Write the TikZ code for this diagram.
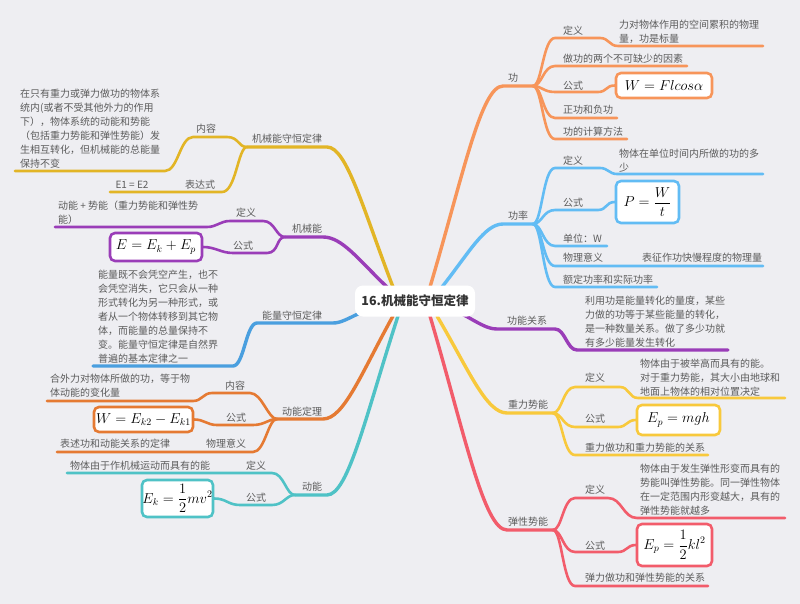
\documentclass[tikz,border=0pt]{standalone}
\usepackage{fontspec}
\setmainfont{Noto Sans CJK SC}
\definecolor{cGong}{HTML}{F7955A}
\definecolor{cGonglv}{HTML}{62BCF4}
\definecolor{cPurple}{HTML}{9A3DB8}
\definecolor{cYellow}{HTML}{F8C93C}
\definecolor{cGold}{HTML}{E2B526}
\definecolor{cRed}{HTML}{F25C6B}
\definecolor{cBlueB}{HTML}{4A9FDF}
\definecolor{cOrangeB}{HTML}{E57A33}
\definecolor{cTeal}{HTML}{4FC2C6}
\definecolor{bg}{HTML}{EEEEF2}
\definecolor{txt}{HTML}{5C5C5C}
\definecolor{roottxt}{HTML}{333333}
\tikzset{
  lbl/.style={inner sep=0pt, font=\fontsize{10}{14}\selectfont, text=txt},
  lblw/.style={lbl, anchor=west},
  blk/.style={lbl, anchor=north west, align=left},
  mainline/.style={line width=3.4pt, line cap=round, line join=round},
  subline/.style={line width=2.6pt, line cap=round, line join=round},
  fbox/.style={line width=2.6pt, rounded corners=5pt, fill=white, inner sep=0pt,
               font=\fontsize{14}{16}\selectfont},
}
\begin{document}
\begin{tikzpicture}[x=1pt,y=-1pt]
\fill[bg] (0,0) rectangle (800,604);
\useasboundingbox (0,0) rectangle (800,604);

% ================= RIGHT SIDE =================
% ---- 功
\coordinate (gS) at (430,287); \coordinate (gE) at (503,86); \coordinate (gF) at (533,86);
\draw[mainline,cGong] (gS) .. controls (463,176) and (481,86) .. (gE) -- (gF);
\node[lbl] (gL) at (513,78) {功};
\coordinate (g1) at (555,38); \coordinate (g1e) at (763,46);
\draw[subline,cGong] (gF) .. controls +(9,0) and +(-12,0) .. (g1) -- (600,38) .. controls +(9,0) and +(-9,0) .. (618,46) -- (g1e);
\node[lblw] (g1t) at (563,31) {定义};
\node[blk] (g1b) at (619,20) {力对物体作用的空间累积的物理\\量，功是标量};
\coordinate (g2) at (555,66); \coordinate (g2e) at (687,66);
\draw[subline,cGong] (gF) .. controls +(9,0) and +(-12,0) .. (g2) -- (g2e);
\node[lblw] (g2t) at (563,59) {做功的两个不可缺少的因素};
\node[fbox,draw=cGong,minimum width=96pt,minimum height=25pt] (gfx) at (664,85.5) {$W = Flcos\alpha$};
\coordinate (g3) at (555,92);
\draw[subline,cGong] (gF) .. controls +(9,0) and +(-12,0) .. (g3) -- (598,92) .. controls +(9,0) and +(-9,0) .. (gfx.west);
\node[lblw] (g3t) at (563,86) {公式};
\coordinate (g4) at (555,118); \coordinate (g4e) at (617,118);
\draw[subline,cGong] (gF) .. controls +(9,0) and +(-12,0) .. (g4) -- (g4e);
\node[lblw] (g4t) at (563,110) {正功和负功};
\coordinate (g5) at (555,139); \coordinate (g5e) at (627,139);
\draw[subline,cGong] (gF) .. controls +(9,0) and +(-12,0) .. (g5) -- (g5e);
\node[lblw] (g5t) at (563,132) {功的计算方法};

% ---- 功率
\coordinate (pS) at (442,287); \coordinate (pE) at (503,224); \coordinate (pF) at (533,224);
\draw[mainline,cGonglv] (pS) .. controls (469.5,252) and (484.7,224) .. (pE) -- (pF);
\node[lbl] (pL) at (518,216) {功率};
\coordinate (p1) at (555,168); \coordinate (p1e) at (763,174);
\draw[subline,cGonglv] (pF) .. controls +(9,0) and +(-12,0) .. (p1) -- (600,168) .. controls +(8,0) and +(-8,0) .. (617,174) -- (p1e);
\node[lblw] (p1t) at (563,161) {定义};
\node[blk] (p1b) at (619,149) {物体在单位时间内所做的功的多\\少};
\node[fbox,draw=cGonglv,minimum width=63pt,minimum height=42pt] (pfx) at (647.5,202) {$\displaystyle P = \frac{W}{t}$};
\coordinate (p2) at (555,210);
\draw[subline,cGonglv] (pF) .. controls +(9,0) and +(-12,0) .. (p2) -- (598,210) .. controls +(9,0) and +(-9,0) .. (pfx.west);
\node[lblw] (p2t) at (563,203) {公式};
\coordinate (p3) at (555,246); \coordinate (p3e) at (607,246);
\draw[subline,cGonglv] (pF) .. controls +(9,0) and +(-12,0) .. (p3) -- (p3e);
\node[lblw] (p3t) at (563,239) {单位：W};
\coordinate (p4) at (555,266); \coordinate (p4e) at (763,266);
\draw[subline,cGonglv] (pF) .. controls +(9,0) and +(-12,0) .. (p4) -- (p4e);
\node[lblw] (p4t) at (563,258) {物理意义};
\node[lblw] (p4b) at (642,258) {表征作功快慢程度的物理量};
\coordinate (p5) at (555,287); \coordinate (p5e) at (657,287);
\draw[subline,cGonglv] (pF) .. controls +(9,0) and +(-12,0) .. (p5) -- (p5e);
\node[lblw] (p5t) at (563,280) {额定功率和实际功率};

% ---- 功能关系
\coordinate (rS) at (462,314); \coordinate (rE) at (497,329); \coordinate (rEe) at (728,350);
\draw[mainline,cPurple] (rS) .. controls (477.8,322.3) and (486.5,329) .. (rE) -- (555,329) .. controls +(10,0) and +(-10,0) .. (577,350) -- (rEe);
\node[lbl] (rL) at (527,321) {功能关系};
\node[blk] (rb) at (585,296) {利用功是能量转化的量度，某些\\力做的功等于某些能量的转化，\\是一种数量关系。做了多少功就\\有多少能量发生转化};

% ---- 重力势能
\coordinate (zS) at (437,316); \coordinate (zE) at (507,413); \coordinate (zF) at (553,413);
\draw[mainline,cYellow] (zS) .. controls (468.5,369.4) and (486,413) .. (zE) -- (zF);
\node[lbl] (zL) at (528,405) {重力势能};
\coordinate (z1) at (575,387); \coordinate (z1e) at (785,398);
\draw[subline,cYellow] (zF) .. controls +(9,0) and +(-12,0) .. (z1) -- (620,387) .. controls +(9,0) and +(-9,0) .. (638,398) -- (z1e);
\node[lblw] (z1t) at (585,378) {定义};
\node[blk] (z1b) at (640,359) {物体由于被举高而具有的能。\\对于重力势能，其大小由地球和\\地面上物体的相对位置决定};
\node[fbox,draw=cYellow,minimum width=83pt,minimum height=30pt] (zfx) at (678.5,420) {$E_p = mgh$};
\coordinate (z2) at (575,427);
\draw[subline,cYellow] (zF) .. controls +(9,0) and +(-12,0) .. (z2) -- (618,427) .. controls +(9,0) and +(-9,0) .. (zfx.west);
\node[lblw] (z2t) at (585,419) {公式};
\coordinate (z3) at (575,455); \coordinate (z3e) at (708,455);
\draw[subline,cYellow] (zF) .. controls +(9,0) and +(-12,0) .. (z3) -- (z3e);
\node[lblw] (z3t) at (585,448) {重力做功和重力势能的关系};

% ---- 弹性势能
\coordinate (tS) at (430,316); \coordinate (tE) at (507,530); \coordinate (tF) at (553,530);
\draw[mainline,cRed] (tS) .. controls (464.7,433.7) and (483.9,530) .. (tE) -- (tF);
\node[lbl] (tL) at (528,522) {弹性势能};
\coordinate (t1) at (575,498); \coordinate (t1e) at (785,518);
\draw[subline,cRed] (tF) .. controls +(9,0) and +(-12,0) .. (t1) -- (608,498) .. controls +(14,0) and +(-14,0) .. (637,518) -- (t1e);
\node[lblw] (t1t) at (585,490) {定义};
\node[blk] (t1b) at (640,464) {物体由于发生弹性形变而具有的\\势能叫弹性势能。同一弹性物体\\在一定范围内形变越大，具有的\\弹性势能就越多};
\node[fbox,draw=cRed,minimum width=75pt,minimum height=42pt] (tfx) at (674.5,545) {$\displaystyle E_p = \frac{1}{2}kl^2$};
\coordinate (t2) at (575,552);
\draw[subline,cRed] (tF) .. controls +(9,0) and +(-12,0) .. (t2) -- (618,552) .. controls +(9,0) and +(-9,0) .. (tfx.west);
\node[lblw] (t2t) at (585,546) {公式};
\coordinate (t3) at (575,586); \coordinate (t3e) at (708,586);
\draw[subline,cRed] (tF) .. controls +(9,0) and +(-12,0) .. (t3) -- (t3e);
\node[lblw] (t3t) at (585,578) {弹力做功和弹性势能的关系};

% ================= LEFT SIDE =================
% ---- 机械能守恒定律
\coordinate (hS) at (393,287); \coordinate (hE) at (327,147); \coordinate (hF) at (247,147);
\draw[mainline,cGold] (hS) .. controls (363.3,210) and (346.8,147) .. (hE) -- (hF);
\node[lbl] (hL) at (287,139) {机械能守恒定律};
\coordinate (h1) at (227,137); \coordinate (h1e) at (15,171);
\draw[subline,cGold] (hF) .. controls +(-9,0) and +(12,0) .. (h1) -- (193,137) .. controls +(-13,0) and +(13,0) .. (165,171) -- (h1e);
\node[lbl] (h1t) at (206,129) {内容};
\node[blk] (h1b) at (20,89) {在只有重力或弹力做功的物体系\\统内(或者不受其他外力的作用\\下），物体系统的动能和势能\\（包括重力势能和弹性势能）发\\生相互转化，但机械能的总能量\\保持不变};
\coordinate (h2) at (222,192); \coordinate (h2e) at (110,192);
\draw[subline,cGold] (hF) .. controls +(-9,0) and +(14,0) .. (h2) -- (h2e);
\node[lbl] (h2t) at (200,185) {表达式};
\node[lbl] (h2b) at (132,185) {E1 = E2};

% ---- 机械能
\coordinate (jS) at (387,287); \coordinate (jE) at (323,237); \coordinate (jF) at (285,237);
\draw[mainline,cPurple] (jS) .. controls (358.2,259.5) and (342.2,237) .. (jE) -- (jF);
\node[lbl] (jL) at (307,229) {机械能};
\coordinate (j1) at (263,221); \coordinate (j1e) at (55,227);
\draw[subline,cPurple] (jF) .. controls +(-9,0) and +(12,0) .. (j1) -- (230,221) .. controls +(-10,0) and +(10,0) .. (207,227) -- (j1e);
\node[lbl] (j1t) at (246,213) {定义};
\node[blk] (j1b) at (58,201) {动能 + 势能（重力势能和弹性势\\能）};
\node[fbox,draw=cPurple,minimum width=92pt,minimum height=28pt] (jfx) at (156,247) {$E = E_k + E_p$};
\coordinate (j2) at (267,253);
\draw[subline,cPurple] (jF) .. controls +(-9,0) and +(12,0) .. (j2) -- (233,253) .. controls +(-12,0) and +(12,0) .. (jfx.east);
\node[lbl] (j2t) at (243,246) {公式};

% ---- 能量守恒定律
\coordinate (nS) at (360,313); \coordinate (nE) at (333,323); \coordinate (nEe) at (93,366);
\draw[mainline,cBlueB] (nS) .. controls (347.9,318.5) and (341.1,323) .. (nE) -- (257,323) .. controls +(-11,0) and +(11,0) .. (233,366) -- (nEe);
\node[lbl] (nL) at (292,316) {能量守恒定律};
\node[blk] (nb) at (98,270) {能量既不会凭空产生，也不\\会凭空消失，它只会从一种\\形式转化为另一种形式，或\\者从一个物体转移到其它物\\体，而能量的总量保持不\\变。能量守恒定律是自然界\\普遍的基本定律之一};

% ---- 动能定理
\coordinate (kS) at (393,316); \coordinate (kE) at (323,419); \coordinate (kF) at (277,419);
\draw[mainline,cOrangeB] (kS) .. controls (361.5,372.7) and (344,419) .. (kE) -- (kF);
\node[lbl] (kL) at (302,412) {动能定理};
\coordinate (k1) at (250,393); \coordinate (k1e) at (47,401);
\draw[subline,cOrangeB] (kF) .. controls +(-9,0) and +(12,0) .. (k1) -- (212,393) .. controls +(-9,0) and +(9,0) .. (193,401) -- (k1e);
\node[lbl] (k1t) at (235,386) {内容};
\node[blk] (k1b) at (50,374) {合外力对物体所做的功，等于物\\体动能的变化量};
\node[fbox,draw=cOrangeB,minimum width=99pt,minimum height=25pt] (kfx) at (143.5,419.5) {$W = E_{k2} - E_{k1}$};
\coordinate (k2) at (253,425);
\draw[subline,cOrangeB] (kF) .. controls +(-9,0) and +(12,0) .. (k2) -- (217,425) .. controls +(-10,0) and +(10,0) .. (kfx.east);
\node[lbl] (k2t) at (236,418) {公式};
\coordinate (k3) at (253,452); \coordinate (k3e) at (57,452);
\draw[subline,cOrangeB] (kF) .. controls +(-9,0) and +(12,0) .. (k3) -- (k3e);
\node[lbl] (k3t) at (226,444) {物理意义};
\node[lblw] (k3b) at (60,444) {表述功和动能关系的定律};

% ---- 动能
\coordinate (dS) at (398,316); \coordinate (dE) at (327,495); \coordinate (dF) at (295,495);
\draw[mainline,cTeal] (dS) .. controls (366,414.5) and (348.3,495) .. (dE) -- (dF);
\node[lbl] (dL) at (312,487) {动能};
\coordinate (d1) at (272,473); \coordinate (d1e) at (67,473);
\draw[subline,cTeal] (dF) .. controls +(-9,0) and +(12,0) .. (d1) -- (d1e);
\node[lbl] (d1t) at (256,466) {定义};
\node[lblw] (d1b) at (70,466) {物体由于作机械运动而具有的能};
\node[fbox,draw=cTeal,minimum width=71pt,minimum height=37pt] (dfx) at (177.5,498.5) {$\displaystyle E_k = \frac{1}{2}mv^2$};
\coordinate (d2) at (272,505);
\draw[subline,cTeal] (dF) .. controls +(-9,0) and +(12,0) .. (d2) -- (240,505) .. controls +(-12,0) and +(12,0) .. (dfx.east);
\node[lbl] (d2t) at (256,498) {公式};

% ================= ROOT =================
\node[fill=white, rounded corners=8pt, minimum width=120pt, minimum height=31pt, inner sep=0pt,
      font=\fontsize{12.5}{14}\selectfont\bfseries, text=roottxt] (root) at (415,301) {16.机械能守恒定律};
\end{tikzpicture}
\end{document}
